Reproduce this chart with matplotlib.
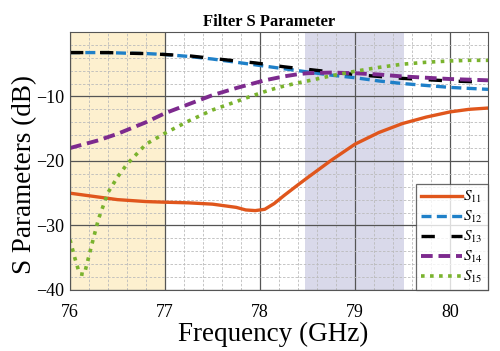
import matplotlib
matplotlib.use("Agg")
from matplotlib import pyplot as plt
from matplotlib.ticker import MultipleLocator

plt.rcParams['font.family'] = ['Liberation Serif', 'DejaVu Serif']
plt.rcParams['mathtext.fontset'] = 'stix'

# frequency points (GHz)
freq = [76.0, 76.05, 76.1, 76.15, 76.2, 76.25, 76.3, 76.4, 76.5, 76.6, 76.8,
        77.0, 77.25, 77.5, 77.75, 77.85, 77.95, 78.05, 78.15, 78.25, 78.4, 78.5, 78.75,
        79.0, 79.25, 79.5, 79.75, 80.0, 80.2, 80.4]

s11 = [-25.0, -25.1, -25.2, -25.3, -25.4, -25.5, -25.6, -25.8, -26.0, -26.1, -26.3,
       -26.4, -26.5, -26.7, -27.2, -27.6, -27.7, -27.5, -26.6, -25.4, -23.7, -22.6, -19.9,
       -17.4, -15.6, -14.2, -13.2, -12.4, -12.0, -11.8]
s12 = [-3.2, -3.2, -3.2, -3.2, -3.2, -3.2, -3.2, -3.2, -3.25, -3.3, -3.35,
       -3.5, -3.8, -4.2, -4.7, -4.9, -5.1, -5.3, -5.5, -5.7, -6.0, -6.2, -6.7,
       -7.1, -7.6, -8.0, -8.3, -8.6, -8.75, -8.9]
s13 = [-3.2, -3.2, -3.2, -3.2, -3.2, -3.2, -3.2, -3.2, -3.25, -3.3, -3.35,
       -3.5, -3.7, -4.1, -4.5, -4.65, -4.8, -5.0, -5.2, -5.4, -5.65, -5.8, -6.2,
       -6.6, -6.9, -7.2, -7.4, -7.6, -7.7, -7.8]
s14 = [-18.0, -17.8, -17.6, -17.4, -17.2, -17.0, -16.8, -16.3, -15.8, -15.2, -14.0,
       -12.6, -11.2, -9.8, -8.7, -8.3, -7.9, -7.5, -7.2, -6.9, -6.55, -6.4, -6.3,
       -6.4, -6.6, -6.9, -7.1, -7.3, -7.4, -7.5]
s15 = [-32.2, -35.0, -37.5, -37.6, -34.7, -31.8, -29.0, -24.9, -22.5, -20.5, -17.4,
       -15.7, -13.8, -12.1, -10.8, -10.25, -9.75, -9.25, -8.8, -8.4, -7.9, -7.6, -6.8,
       -6.1, -5.5, -5.0, -4.7, -4.5, -4.4, -4.4]

labels = [r'$S_{\mathit{11}}$', r'$S_{\mathit{12}}$', r'$S_{\mathit{13}}$',
          r'$S_{\mathit{14}}$', r'$S_{\mathit{15}}$']

fig = plt.figure(figsize=(5, 3.51), dpi=100)
ax = fig.add_axes([0.14, 0.174, 0.836, 0.735])

ax.axvspan(76, 77, color='#fdf0cf', lw=0)
ax.axvspan(78.47, 79.52, color='#d9d9ea', lw=0)

ax.plot(freq, s11, color='#e0561c', lw=2.4, label=labels[0])
ax.plot(freq, s12, color='#1f80c8', lw=2.4, ls=(0, (3, 1.6)), label=labels[1])
ax.plot(freq, s13, color='black', lw=2.4, ls=(0, (4, 5)), label=labels[2])
ax.plot(freq, s14, color='#7d2a8e', lw=2.8, ls=(0, (3, 1.5)), label=labels[3])
ax.plot(freq, s15, color='#7ab32e', lw=2.6, ls=(0, (1, 1.5)), label=labels[4])

ax.set_xlim(76, 80.4)
ax.set_ylim(-40, 0)
ax.xaxis.set_major_locator(MultipleLocator(1))
ax.xaxis.set_minor_locator(MultipleLocator(0.2))
ax.yaxis.set_major_locator(MultipleLocator(10))
ax.yaxis.set_minor_locator(MultipleLocator(2))
ax.set_yticks([-40, -30, -20, -10])

ax.grid(which='major', color='#555555', lw=0.9)
ax.grid(which='minor', color='#bbbbbb', lw=0.6, ls=(0, (3, 2)))
ax.tick_params(which='both', length=0, labelsize=13)
ax.tick_params(axis='x', pad=10)
ax.tick_params(axis='y', pad=4)
for sp in ax.spines.values():
    sp.set_color('#555555')

ax.set_title('Filter S Parameter', fontsize=12, fontweight='bold', pad=4, x=0.476)
ax.set_xlabel('Frequency (GHz)', fontsize=19.5)
ax.set_ylabel('S Parameters (dB)', fontsize=19.5)
ax.xaxis.set_label_coords(0.486, -0.122)
ax.yaxis.set_label_coords(-0.078, 0.446)

leg = ax.legend(loc='lower right', fontsize=11, handlelength=2.7,
                frameon=True, fancybox=False, borderaxespad=0.0,
                labelspacing=0.26, handletextpad=0.1, borderpad=0.3)
leg.get_frame().set_edgecolor('#444444')
leg.get_frame().set_linewidth(0.9)

fig.savefig('out.png', dpi=100)
